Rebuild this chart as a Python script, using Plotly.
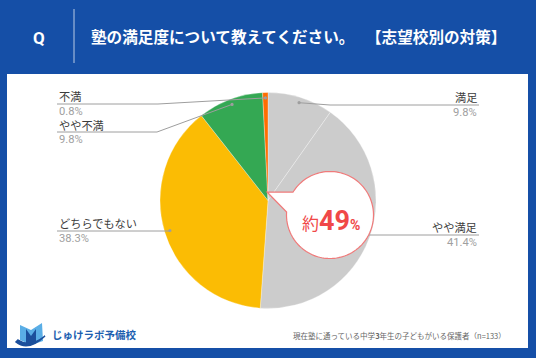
import math
import plotly.graph_objects as go

# ---- data ----
categories = ["満足", "やや満足", "どちらでもない", "やや不満", "不満"]
values = [9.8, 41.4, 38.3, 9.8, 0.8]
colors = ["#cccccc", "#cccccc", "#fbbc04", "#34a853", "#ff6d01"]
pct_labels = ["9.8%", "41.4%", "38.3%", "9.8%", "0.8%"]
title_main = "塾の満足度について教えてください。"
title_tag = "【志望校別の対策】"
footer_text = "現在塾に通っている中学<b>3</b>年生の子どもがいる保護者（n=133）"

W, H = 536, 358
FONT = "Noto Sans CJK JP"
BLUE = "#154fa7"

# pie geometry (pixels)
CX, CY, R = 268, 200.5, 108

fig = go.Figure()
fig.add_trace(go.Pie(
    labels=categories, values=values, sort=False, direction="clockwise",
    rotation=0, textinfo="none", hoverinfo="none", showlegend=False,
    marker=dict(colors=colors, line=dict(color="rgba(255,255,255,0.6)", width=0.5)),
    domain=dict(x=[(CX - R) / W, (CX + R) / W], y=[1 - (CY + R) / H, 1 - (CY - R) / H]),
))

# invisible pixel axes spanning the whole figure
fig.update_xaxes(range=[0, W], visible=False, fixedrange=True)
fig.update_yaxes(range=[H, 0], visible=False, fixedrange=True)
fig.add_trace(go.Scatter(x=[0], y=[0], mode="markers", marker=dict(opacity=0), hoverinfo="none", showlegend=False))

shapes = []
annotations = []

# white panel
shapes.append(dict(type="rect", x0=7, x1=528, y0=74, y1=348, fillcolor="white",
                   line=dict(width=0), layer="below"))
# header separator line
shapes.append(dict(type="line", x0=74, x1=74, y0=9, y1=63, line=dict(color="rgba(255,255,255,0.7)", width=1)))
annotations.append(dict(x=39, y=38, text="<b>Q</b>", showarrow=False, xanchor="center", yanchor="middle",
                        font=dict(family="Roboto", size=17, color="white")))
annotations.append(dict(x=89, y=36, text="<b>" + title_main + "</b>", showarrow=False, xanchor="left",
                        yanchor="middle", font=dict(family=FONT, size=15.6, color="white")))
annotations.append(dict(x=508, y=36, text="<b>" + title_tag + "</b>", showarrow=False, xanchor="right",
                        yanchor="middle", font=dict(family=FONT, size=15.6, color="white")))

# leader lines: dots at 0.95R at slice mid-angles
total = sum(values)
cum = 0
dots = []
for v in values:
    mid = (cum + v / 2) / total * 2 * math.pi
    cum += v
    dots.append((CX + 0.95 * R * math.sin(mid), CY - 0.95 * R * math.cos(mid)))

# label layout: (side, label_y, line_y, pct_y, elbow_x)
label_pos = [
    ("right", 97, 105, 112, 330),
    ("right", 227, 235, 242, None),
    ("left", 223, 231, 238, None),
    ("left", 125, 132, 139, 157),
    ("left", 96, 104, 111, 158),
]
LX_LEFT, LX_RIGHT = 57, 479
line_col = "#9e9e9e"
for i, (side, ly, lny, py, ex) in enumerate(label_pos):
    dx, dy = dots[i]
    end_x = LX_LEFT if side == "left" else LX_RIGHT
    if ex is None:
        path = f"M{dx},{lny} L{end_x},{lny}"
    else:
        path = f"M{dx},{dy} L{ex},{lny} L{end_x},{lny}"
    shapes.append(dict(type="path", path=path, line=dict(color=line_col, width=1), layer="above"))
    shapes.append(dict(type="circle", x0=dx - 1.6, x1=dx + 1.6, y0=dy - 1.6, y1=dy + 1.6,
                       fillcolor=line_col, line=dict(width=0), layer="above"))
    anchor = "left" if side == "left" else "right"
    annotations.append(dict(x=end_x, y=ly, text=categories[i], showarrow=False, xanchor=anchor,
                            yanchor="middle", font=dict(family=FONT, size=11.2, color="#3c3c3c")))
    annotations.append(dict(x=end_x, y=py, text=pct_labels[i], showarrow=False, xanchor=anchor,
                            yanchor="middle", font=dict(family="Roboto", size=11.2, color="#a0a0a0")))

# callout bubble
BX, BY, BR = 330, 215, 43.5
tip = (267, 192)
a0 = math.atan2(192 - BY, 293 - BX)
a1 = math.atan2(212 - BY, 286 - BX) + 2 * math.pi
pts = []
n = 120
for k in range(n + 1):
    a = a0 + (a1 - a0) * k / n
    pts.append((BX + BR * math.cos(a), BY + BR * math.sin(a)))
path = "M" + " L".join(f"{x:.2f},{y:.2f}" for x, y in pts) + f" L{tip[0]},{tip[1]} Z"
shapes.append(dict(type="path", path=path, fillcolor="white", line=dict(color="#f07a7a", width=1.2), layer="above"))
annotations.append(dict(
    x=331, y=221,
    text="<span style='font-size:17px'>約</span><b><span style='font-size:27px'>49</span></b><b><span style='font-size:14px'>%</span></b>",
    showarrow=False, xanchor="center", yanchor="middle",
    font=dict(family="Roboto, Noto Sans CJK JP", size=17, color="#f04848")))

# footer source
annotations.append(dict(x=508, y=335, text=footer_text, showarrow=False, xanchor="right", yanchor="middle",
                        font=dict(family=FONT, size=7.5, color="#666666")))

# logo (simplified)
shapes.append(dict(type="path", path="M20,325 L31,330 L42,323 L43,341 L31,345 L20,340 Z",
                   fillcolor="#5aaee6", line=dict(width=0), layer="above"))
shapes.append(dict(type="path", path="M26,329 L31,336 L36,329 L36,343 L31,345 L26,343 Z",
                   fillcolor="#1b4f9c", line=dict(width=0), layer="above"))
shapes.append(dict(type="path", path="M16,342 Q28,352 45,336 Q30,348 18,340 Z",
                   fillcolor="#1b4f9c", line=dict(color="#1b4f9c", width=1.5), layer="above"))
annotations.append(dict(x=50, y=334, text="<b>じゅけラボ予備校</b>", showarrow=False, xanchor="left",
                        yanchor="middle", font=dict(family=FONT, size=10.5, color="#1d5fb0")))

fig.update_layout(
    width=W, height=H, margin=dict(l=0, r=0, t=0, b=0),
    paper_bgcolor=BLUE, plot_bgcolor="rgba(0,0,0,0)",
    xaxis=dict(domain=[0, 1]), yaxis=dict(domain=[0, 1]),
    shapes=shapes, annotations=annotations, showlegend=False,
)
fig.write_html("out.html", config={"displayModeBar": False, "staticPlot": True},
               post_script="document.body.style.margin='0';document.body.style.overflow='hidden';")
